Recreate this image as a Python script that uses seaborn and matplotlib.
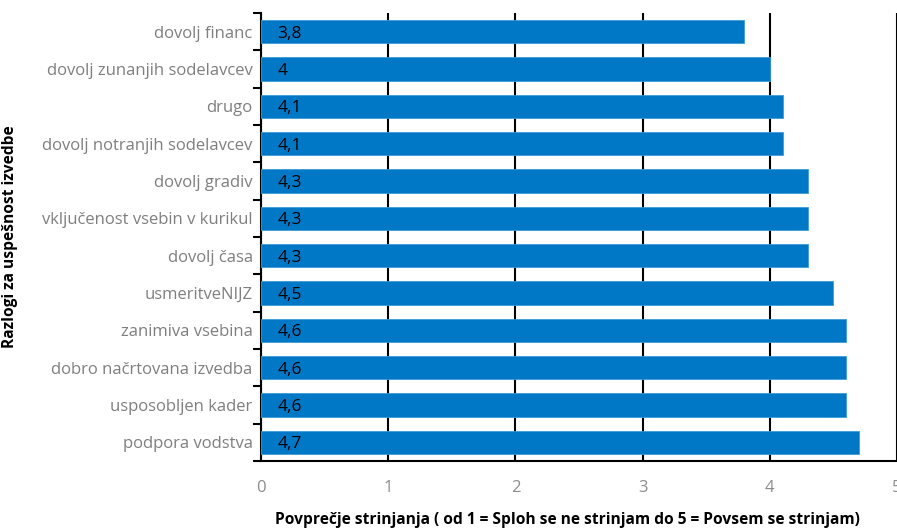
import matplotlib
matplotlib.use("Agg")
import matplotlib.pyplot as plt
import seaborn as sns
import pandas as pd
import numpy as np

categories = [
    "dovolj financ",
    "dovolj zunanjih sodelavcev",
    "drugo",
    "dovolj notranjih sodelavcev",
    "dovolj gradiv",
    "vključenost vsebin v kurikul",
    "dovolj časa",
    "usmeritveNIJZ",
    "zanimiva vsebina",
    "dobro načrtovana izvedba",
    "usposobljen kader",
    "podpora vodstva",
]
values = [3.8, 4.0, 4.1, 4.1, 4.3, 4.3, 4.3, 4.5, 4.6, 4.6, 4.6, 4.7]
x_ticks = [0, 1, 2, 3, 4, 5]

df = pd.DataFrame({"razlog": categories, "povprecje": values})

sns.set_theme(style="white")
plt.rcParams["font.family"] = ["Open Sans", "DejaVu Sans"]

W, H = 897, 530
left_px, right_px, top_px, bottom_px = 261, 897, 13, 461
fig = plt.figure(figsize=(W / 100, H / 100), dpi=100)
ax = fig.add_axes([left_px / W, 1 - bottom_px / H,
                   (right_px - left_px) / W, (bottom_px - top_px) / H])

sns.barplot(data=df, y="razlog", x="povprecje", orient="h", color="#0078C6",
            width=0.62, saturation=1, edgecolor="#3C9BD8", linewidth=0.6,
            order=categories, ax=ax, zorder=3)

ax.set_xlim(0, 5)
ax.set_ylim(len(categories) - 0.5, -0.5)

# vertical gridlines
ax.set_xticks(x_ticks)
ax.set_xticklabels([str(t) for t in x_ticks])
ax.xaxis.grid(True, color="black", linewidth=1.5)
ax.set_axisbelow(True)

for side in ["top", "right"]:
    ax.spines[side].set_visible(False)
for side in ["left", "bottom"]:
    ax.spines[side].set_color("black")
    ax.spines[side].set_linewidth(1.5)

ax.tick_params(axis="x", which="major", direction="out", length=6, width=1.5,
               color="black", labelcolor="#8C8C8C", labelsize=12, pad=8)
ax.tick_params(axis="y", which="major", length=0, labelcolor="#7F7F7F",
               labelsize=12, pad=6)
ax.set_yticks(np.arange(-0.5, len(categories), 1.0), minor=True)
ax.tick_params(axis="y", which="minor", direction="out", length=6, width=1.5,
               color="black", left=True)

# value labels inside bars
for i, v in enumerate(values):
    label = f"{v:g}".replace(".", ",")
    ax.text(0.13, i, label, va="center_baseline", ha="left", color="black",
            fontsize=12.5, zorder=4)

ax.set_xlabel("Povprečje strinjanja ( od 1 = Sploh se ne strinjam do 5 = Povsem se strinjam)",
              fontsize=11.2, fontweight="bold", color="black", labelpad=10)
ax.set_ylabel("Razlogi za uspešnost izvedbe", fontsize=11.2, fontweight="bold",
              color="black")
ax.yaxis.set_label_coords((18 - left_px) / (right_px - left_px), 0.5)
ax.xaxis.set_label_coords((567 - left_px) / (right_px - left_px),
                          -(520 - bottom_px) / (bottom_px - top_px))
ax.xaxis.label.set_va("center")

fig.savefig("out.png", dpi=100)
